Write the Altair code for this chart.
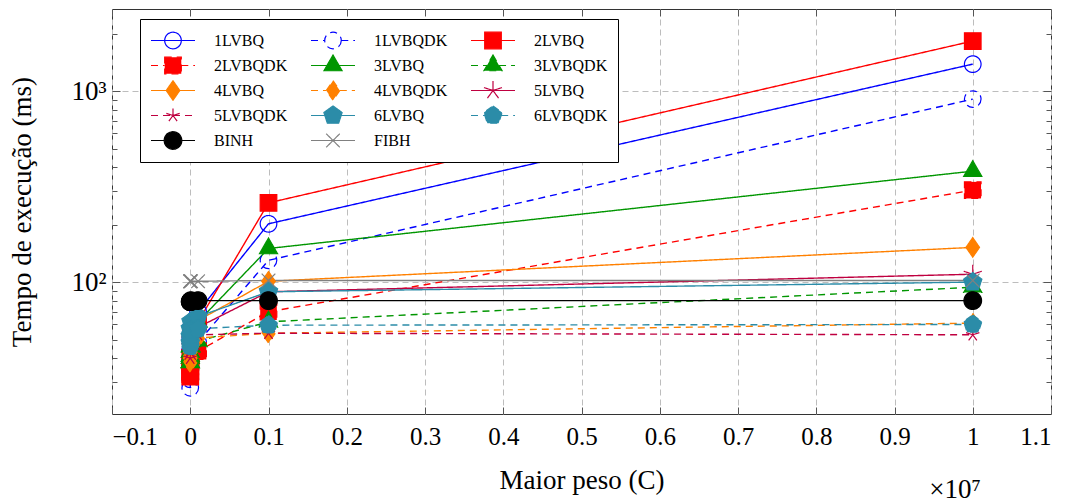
import math
import altair as alt
import pandas as pd

# ---------------- data ----------------
x_values = [10, 100, 1000, 10000, 100000, 1000000, 10000000]
series_names = ["1LVBQ", "1LVBQDK", "2LVBQ", "2LVBQDK", "3LVBQ", "3LVBQDK",
                "4LVBQ", "4LVBQDK", "5LVBQ", "5LVBQDK", "6LVBQ", "6LVBQDK",
                "BINH", "FIBH"]
t_1lvbq = [40, 44, 50, 58, 70, 202, 1384]
t_1lvbqdk = [28, 31, 35, 41, 48.5, 130, 908]
t_2lvbq = [32, 34, 40, 50, 62, 260, 1828]
t_2lvbqdk = [33, 35, 37, 40, 43.5, 70, 303]
t_3lvbq = [38, 41, 46, 53, 62, 150, 381]
t_3lvbqdk = [38, 40, 43, 46, 49, 62, 94]
t_4lvbq = [40, 43, 48, 55, 63, 101, 152]
t_4lvbqdk = [38, 41, 45, 48, 51, 54, 61]
t_5lvbq = [43, 46, 50, 54, 58, 89, 110]
t_5lvbqdk = [40, 44, 48, 51, 53, 54, 53]
t_6lvbq = [48, 52, 57, 62, 66, 89, 100]
t_6lvbqdk = [46, 50, 53, 56, 57, 59.5, 60]
t_binh = [79, 79, 79, 80, 80, 80, 80]
t_fibh = [101, 101, 101, 101, 101, 102, 102]
all_series = [t_1lvbq, t_1lvbqdk, t_2lvbq, t_2lvbqdk, t_3lvbq, t_3lvbqdk,
              t_4lvbq, t_4lvbqdk, t_5lvbq, t_5lvbqdk, t_6lvbq, t_6lvbqdk,
              t_binh, t_fibh]

x_tick_values = [-1000000, 0, 1000000, 2000000, 3000000, 4000000, 5000000,
                 6000000, 7000000, 8000000, 9000000, 10000000, 11000000]
y_major = [100, 1000]
y_minor = [30, 40, 50, 60, 70, 80, 90, 200, 300, 400, 500, 600, 700, 800, 900, 2000]

rows = []
for name, vals in zip(series_names, all_series):
    for xv, tv in zip(x_values, vals):
        rows.append({"x": xv, "t": tv, "series": name, "series_l": name})
df = pd.DataFrame(rows)

# ---------------- styles ----------------
BLUE, RED, GREEN, ORANGE = "#0000FF", "#FF0000", "#009600", "#FF8000"
CRIMSON, TEAL, BLACK, GRAY = "#BF0040", "#2B8CA8", "#000000", "#808080"
colors = [BLUE, BLUE, RED, RED, GREEN, GREEN, ORANGE, ORANGE,
          CRIMSON, CRIMSON, TEAL, TEAL, BLACK, GRAY]
fills = ["transparent", "transparent", RED, RED, GREEN, GREEN, ORANGE, ORANGE,
         CRIMSON, CRIMSON, TEAL, TEAL, BLACK, GRAY]
SOLID, DASH = [1, 0], [7, 5]
dashes = [SOLID, DASH] * 6 + [SOLID, SOLID]
kinds = ["ocircle", "ocircle", "square", "square", "triangle", "triangle",
         "diamond", "diamond", "star", "star", "pentagon", "pentagon",
         "circle", "cross"]


def f(v):
    s = f"{v:.3f}".rstrip("0").rstrip(".")
    return "0" if s in ("-0", "") else s


def marker(kind, u):
    """SVG path of a marker, pixel sizes divided by unit u; returns (path, half-width at y=0)."""
    if kind in ("ocircle", "circle"):
        r = (8.3 if kind == "ocircle" else 8.8) / u
        return (f"M{f(r)},0A{f(r)},{f(r)},0,1,1,{f(-r)},0A{f(r)},{f(r)},0,1,1,{f(r)},0Z", r)
    if kind == "square":
        s = 8.3 / u
        return (f"M{f(-s)},{f(-s)}H{f(s)}V{f(s)}H{f(-s)}Z", s)
    if kind == "triangle":
        r = 10.5 / u
        return (f"M0,{f(-r)}L{f(0.866 * r)},{f(0.5 * r)}L{f(-0.866 * r)},{f(0.5 * r)}Z", 0.577 * r)
    if kind == "diamond":
        w, h = 6.8 / u, 9.8 / u
        return (f"M0,{f(-h)}L{f(w)},0L0,{f(h)}L{f(-w)},0Z", w)
    if kind == "star":
        r = 9.5 / u
        p = ""
        for k in range(5):
            a = math.radians(-90 + 72 * k)
            p += f"M0,0L{f(r * math.cos(a))},{f(r * math.sin(a))}"
        return (p, 0)
    if kind == "pentagon":
        r = 9.6 / u
        pts = []
        for k in range(5):
            a = math.radians(-90 + 72 * k)
            pts.append(f"{f(r * math.cos(a))},{f(r * math.sin(a))}")
        return ("M" + "L".join(pts) + "Z", 0.851 * r)
    if kind == "cross":
        r = 6.8 / u
        return (f"M{f(-r)},{f(-r)}L{f(r)},{f(r)}M{f(-r)},{f(r)}L{f(r)},{f(-r)}", 0)


PT_SIZE = 400          # plot markers: unit = 10 px
LG_SIZE = 1936         # legend symbols: unit = 22 px (44 px wide)
pt_u = math.sqrt(PT_SIZE) / 2
lg_u = math.sqrt(LG_SIZE) / 2

pt_shapes = [marker(k, pt_u)[0] for k in kinds]
lg_shapes = []
for k, d in zip(kinds, dashes):
    p, e = marker(k, lg_u)
    if k in ("ocircle", "star", "cross") and d == SOLID:
        line = "M-1,0H1"
    else:
        line = f"M-1,0H{f(-e)}M{f(e)},0H1"
    lg_shapes.append(line + p)

W, H = 939, 405
FONT = "'Liberation Serif', 'Times New Roman', serif"

xs = alt.Scale(type="linear", domain=[-1000000, 11000000], nice=False, zero=False)
ys = alt.Scale(type="log", domain=[20.4, 2690], nice=False)

stroke_scale = alt.Scale(domain=series_names, range=colors)
fill_scale = alt.Scale(domain=series_names, range=fills)
dash_scale = alt.Scale(domain=series_names, range=dashes)

x_label_expr = "datum.value == 0 ? '0' : replace(format(datum.value / 10000000, '.1~f'), '-', '\u2212')"
y_label_expr = "datum.value == 100 ? '10\u00b2' : '10\u00b3'"
tick_len = {"condition": {"test": "datum.value == 100 || datum.value == 1000", "value": 8}, "value": 5}
x_tick_len = 7

base = alt.Chart(df)

# lines (carry the main axes)
lines = base.mark_line(strokeWidth=1.4).encode(
    x=alt.X("x:Q", scale=xs, axis=alt.Axis(
        orient="bottom", values=x_tick_values, labelExpr=x_label_expr, grid=True,
        gridDash=[6, 4], gridColor="#BDBDBD", gridWidth=1, ticks=False, domain=False,
        labelFont=FONT, labelFontSize=25, labelColor="black", labelPadding=10,
        title="Maior peso (C)", titleFont=FONT, titleFontSize=27, titleFontWeight="normal",
        titleColor="black", titlePadding=18)),
    y=alt.Y("t:Q", scale=ys, axis=alt.Axis(
        orient="left", values=y_major, labelExpr=y_label_expr, grid=True,
        gridDash=[6, 4], gridColor="#BDBDBD", gridWidth=1, ticks=False, domain=False,
        labelFont=FONT, labelFontSize=27, labelColor="black", labelPadding=6,
        title="Tempo de execução (ms)", titleFont=FONT, titleFontSize=27,
        titleFontWeight="normal", titleColor="black", titlePadding=34)),
    stroke=alt.Stroke("series:N", scale=stroke_scale, legend=None),
    strokeDash=alt.StrokeDash("series:N", scale=dash_scale, legend=None),
    detail="series:N",
    order="x:Q",
)

# markers (carry inward ticks on bottom / left edges)
points = base.mark_point(filled=True, size=PT_SIZE, strokeWidth=1.2, opacity=1).encode(
    x=alt.X("x:Q", scale=xs, axis=alt.Axis(
        orient="top", offset=-H, values=x_tick_values, labels=False, grid=False,
        domain=False, ticks=True, tickSize=x_tick_len, tickColor="#555555", title=None)),
    y=alt.Y("t:Q", scale=ys, axis=alt.Axis(
        orient="right", offset=-W, values=y_major + y_minor, labels=False, grid=False,
        domain=False, ticks=True, tickSize=tick_len, tickColor="#555555", title=None)),
    stroke=alt.Stroke("series:N", scale=stroke_scale, legend=None),
    fill=alt.Fill("series:N", scale=fill_scale, legend=None),
    shape=alt.Shape("series:N", scale=alt.Scale(domain=series_names, range=pt_shapes), legend=None),
    strokeDash=alt.StrokeDash("series:N", scale=dash_scale, legend=None),
)

# legend-only layer (no data drawn; carries inward ticks on top / right edges)
leg = alt.Legend(orient="none", legendX=28, legendY=10, columns=3, direction="horizontal",
                 title=None, fillColor="white", strokeColor="black", padding=10, cornerRadius=0,
                 labelFont=FONT, labelFontSize=16, labelColor="black", labelOffset=18,
                 labelLimit=300, symbolSize=LG_SIZE, symbolStrokeWidth=1.2,
                 symbolFillColor="white", symbolStrokeColor="black",
                 clipHeight=23, rowPadding=2, columnPadding=22, symbolLimit=0)
legend_layer = base.transform_filter("false").mark_point(
    filled=True, size=PT_SIZE, strokeWidth=1.2, opacity=1).encode(
    x=alt.X("x:Q", scale=xs, axis=alt.Axis(
        orient="bottom", offset=-H, values=x_tick_values, labels=False, grid=False,
        domain=False, ticks=True, tickSize=x_tick_len, tickColor="#555555", title=None)),
    y=alt.Y("t:Q", scale=ys, axis=alt.Axis(
        orient="left", offset=-W, values=y_major + y_minor, labels=False, grid=False,
        domain=False, ticks=True, tickSize=tick_len, tickColor="#555555", title=None)),
    stroke=alt.Stroke("series_l:N", scale=stroke_scale, legend=leg),
    fill=alt.Fill("series_l:N", scale=fill_scale, legend=leg),
    shape=alt.Shape("series_l:N", scale=alt.Scale(domain=series_names, range=lg_shapes), legend=leg),
    strokeDash=alt.StrokeDash("series_l:N", scale=dash_scale, legend=leg),
)

chart = alt.layer(lines, points, legend_layer).resolve_scale(
    stroke="independent", fill="independent", shape="independent", strokeDash="independent"
).resolve_axis(x="independent", y="independent").properties(
    width=W, height=H,
    padding={"left": 0, "top": 0, "right": 5, "bottom": 5},
    title=alt.TitleParams("×10⁷", orient="bottom", anchor="end", frame="group",
                          font=FONT, fontSize=27, fontWeight="normal", color="black",
                          offset=-16, dx=-70),
).configure_view(stroke="#333333", strokeWidth=1)

chart.save("out.html", embed_options={"renderer": "svg", "actions": False})
